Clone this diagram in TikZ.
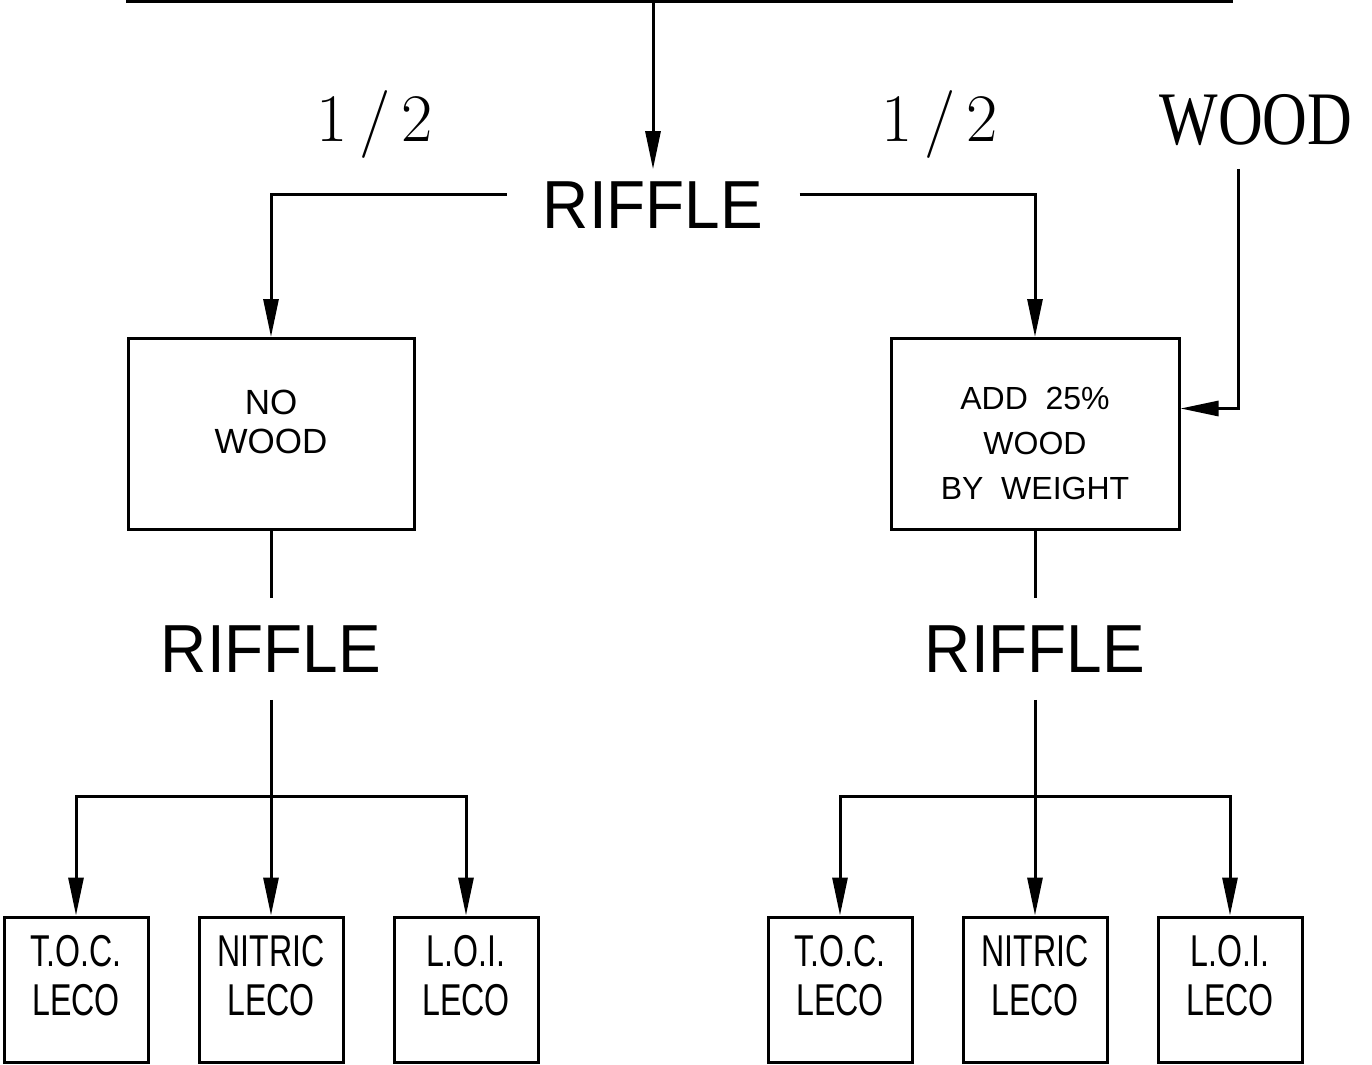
\documentclass[tikz,border=0pt]{standalone}
\usepackage{fontspec}
\newfontfamily\riffont[FakeStretch=0.94]{Liberation Sans}
\newfontfamily\boxfont{Liberation Sans}
\newfontfamily\leaffont[FakeStretch=0.72]{Liberation Sans}
\newfontfamily\woodfont[FakeStretch=0.82]{Liberation Serif}
\usetikzlibrary{arrows.meta,positioning}
\tikzset{
  ln/.style={line width=1.5pt},
  arr/.style={ln,-{Triangle[length=19pt,width=7.5pt]}},
  bx/.style={rectangle,draw,ln,align=center,inner sep=0pt,font=\boxfont\fontsize{16}{22.5}\selectfont},
  lf/.style={rectangle,draw,ln,align=center,inner sep=0pt,minimum width=72pt,minimum height=72.5pt,text depth=14pt,font=\leaffont\fontsize{22.3}{24.5}\selectfont},
  rif/.style={font=\riffont\fontsize{34}{40}\selectfont,inner xsep=18pt,inner ysep=13.5pt},
  half/.style={font=\rmfamily\fontsize{34}{40}\selectfont},
}

\begin{document}
\begin{tikzpicture}[x=0.5pt,y=-0.5pt,node distance=24pt]
  \useasboundingbox (0,0) rectangle (1372,1065);
  \clip (0,0) rectangle (1372,1065);
  % sample source (cut off at the top)
  \node[draw,ln,inner sep=0pt,minimum width=552pt,minimum height=40pt,anchor=south] (src) at (679,3) {};
  \node[rif,inner ysep=6pt] (rif0) at (653,205) {RIFFLE};
  \node[half] (hl) at (375,124) {1\,/\,2};
  \node[half] (hr) at (940,124) {1\,/\,2};
  \node[font=\woodfont\fontsize{37.8}{40}\selectfont,inner ysep=11.5pt] (wood) at (1256,120) {WOOD};
  % the two halves
  \node[bx,minimum width=143pt,minimum height=95.5pt,text depth=12pt,font=\boxfont\fontsize{17.5}{19.5}\selectfont] (nw) at (271,434) {NO\\WOOD};
  \node[bx,minimum width=144pt,minimum height=95.5pt,text height=65.5pt] (aw) at (1035,434) {ADD\ \ 25\%\\WOOD\\BY\ \ WEIGHT};
  \node[rif] (rl) at (271,649) {RIFFLE};
  \node[rif] (rr) at (1035,649) {RIFFLE};
  % analyses
  \node[lf] (l2) at (271,989.5) {NITRIC\\LECO};
  \node[lf,left=of l2] (l1) {T.O.C.\\LECO};
  \node[lf,right=of l2] (l3) {L.O.I.\\LECO};
  \node[lf] (r2) at (1035,989.5) {NITRIC\\LECO};
  \node[lf,left=of r2] (r1) {T.O.C.\\LECO};
  \node[lf,right=of r2] (r3) {L.O.I.\\LECO};
  \coordinate (jl) at (271,796);
  \coordinate (jr) at (1035,796);
  % connectors
  \draw[arr] (src.south -| rif0) -- (rif0.north);
  \draw[arr] ([yshift=5pt]rif0.west) -| (nw.north);
  \draw[arr] ([yshift=5pt]rif0.east) -| (aw.north);
  \draw[arr] ([xshift=-9pt]wood.south) |- ([yshift=12.75pt]aw.east);
  \draw[ln] (nw.south) -- (rl.north);
  \draw[ln] (aw.south) -- (rr.north);
  \draw[arr] (rl.south) -- (l2.north);
  \draw[arr] (jl) -| (l1.north);
  \draw[arr] (jl) -| (l3.north);
  \draw[arr] (rr.south) -- (r2.north);
  \draw[arr] (jr) -| (r1.north);
  \draw[arr] (jr) -| (r3.north);
\end{tikzpicture}
\end{document}
